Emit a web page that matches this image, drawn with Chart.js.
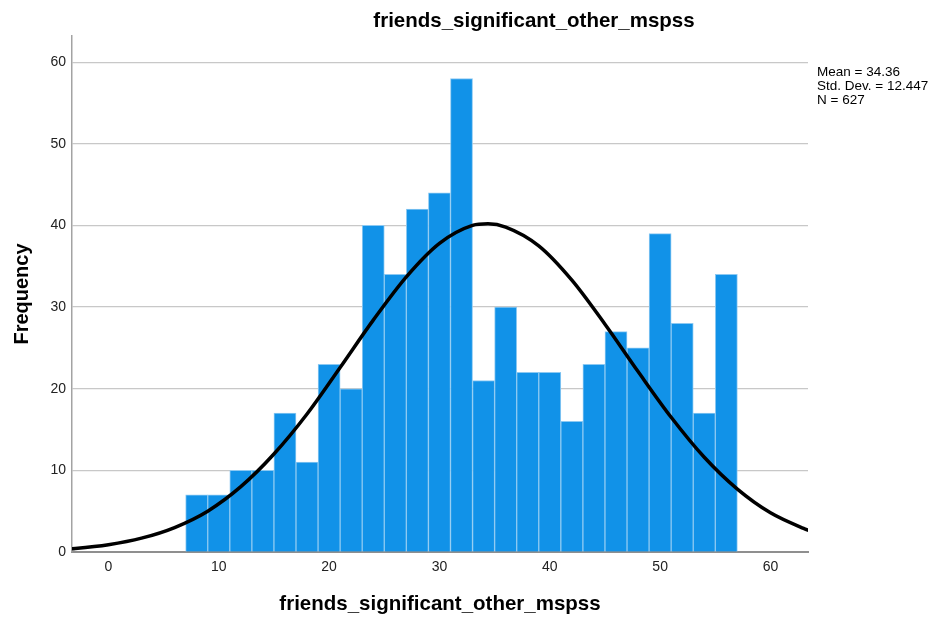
<!DOCTYPE html>
<html>
<head>
<meta charset="utf-8">
<title>friends_significant_other_mspss</title>
<script src="https://cdn.jsdelivr.net/npm/chart.js@4/dist/chart.umd.min.js"></script>
<style>
  body { margin: 0; background: #fff; }
  #wrap { width: 934px; height: 623px; position: relative; }
</style>
</head>
<body>
<div id="wrap"><canvas id="grafico"></canvas></div>
<script>
// histogram bins (centres, width 2) and counts
const binCentros = [8, 10, 12, 14, 16, 18, 20, 22, 24, 26, 28, 30, 32,
                    34, 36, 38, 40, 42, 44, 46, 48, 50, 52, 54, 56];
const contagens = [7, 7, 10, 10, 17, 11, 23, 20, 40, 34, 42, 44, 58,
                   21, 30, 22, 22, 16, 23, 27, 25, 39, 28, 17, 34];

// normal curve
const curvaX = [-4, -3, 0, 3, 6, 9, 12, 15, 18, 21, 24, 27, 30, 33, 34.4,
                36, 39, 42, 45, 48, 51, 54, 57, 60, 63, 64];
const curvaY = [0.35, 0.44, 0.9, 1.7, 3.0, 5.0, 8.0, 12.0, 16.9, 22.6, 28.4, 33.7, 37.8, 40.0, 40.2,
                39.8, 37.5, 33.3, 27.9, 22.1, 16.5, 11.6, 7.7, 4.8, 2.9, 2.4];

const xTicks = [0, 10, 20, 30, 40, 50, 60];
const yTicks = [0, 10, 20, 30, 40, 50, 60];

const titulo = "friends_significant_other_mspss";
const estatisticas = ["Mean = 34.36", "Std. Dev. = 12.447", "N = 627"];

const FONTE = '"Liberation Sans", Arial, sans-serif';

const textos = {
  id: "textos",
  afterDraw(chart) {
    const ctx = chart.ctx;
    const area = chart.chartArea;
    ctx.save();
    ctx.fillStyle = "#000";
    ctx.font = "bold 20.5px " + FONTE;
    ctx.textAlign = "center";
    ctx.textBaseline = "alphabetic";
    ctx.fillText(titulo, 534, 27);

    ctx.font = "13.5px " + FONTE;
    ctx.textAlign = "left";
    const linhas = [76, 90, 104];
    estatisticas.forEach((s, i) => ctx.fillText(s, area.right + 9, linhas[i]));
    ctx.restore();
  }
};

const ctx = document.getElementById("grafico");

new Chart(ctx, {
  type: "bar",
  data: {
    datasets: [
      {
        type: "line",
        data: curvaX.map((x, i) => ({ x: x, y: curvaY[i] })),
        borderColor: "#000",
        borderWidth: 3.5,
        pointRadius: 0,
        cubicInterpolationMode: "monotone",
        fill: false,
        order: 0
      },
      {
        type: "bar",
        data: binCentros.map((x, i) => ({ x: x, y: contagens[i] })),
        backgroundColor: "#1192e8",
        borderColor: "#8cc9f2",
        borderWidth: { left: 1, right: 1, top: 1, bottom: 0 },
        barPercentage: 1,
        categoryPercentage: 1,
        order: 1
      }
    ]
  },
  options: {
    responsive: true,
    maintainAspectRatio: false,
    animation: false,
    layout: { padding: { top: 36, right: 126, left: 0, bottom: 0 } },
    plugins: {
      legend: { display: false },
      tooltip: { enabled: false }
    },
    scales: {
      x: {
        type: "linear",
        min: -3.3,
        max: 63.4,
        offset: false,
        afterFit: s => { s.height = 71; },
        afterBuildTicks: s => { s.ticks = xTicks.map(v => ({ value: v })); },
        ticks: {
          padding: 7,
          color: "#222",
          font: { family: FONTE, size: 14 },
          maxRotation: 0
        },
        grid: { display: false, drawTicks: false, offset: false },
        border: { color: "#8f8f8f", width: 2 },
        title: {
          display: true,
          text: titulo,
          color: "#000",
          font: { family: FONTE, size: 20.5, weight: "bold" },
          padding: { top: 0, bottom: 6 }
        }
      },
      y: {
        min: 0,
        max: 63.2,
        afterFit: s => { s.width = 72; },
        afterBuildTicks: s => { s.ticks = yTicks.map(v => ({ value: v })); },
        ticks: {
          padding: 6,
          color: "#222",
          font: { family: FONTE, size: 14 }
        },
        grid: { color: "#c8c8c8", lineWidth: 1.2, drawTicks: false },
        border: { color: "#a3a3a3", width: 1.5 },
        title: {
          display: true,
          text: "Frequency",
          color: "#000",
          font: { family: FONTE, size: 20, weight: "bold" },
          padding: { top: 10, bottom: 0 }
        }
      }
    }
  },
  plugins: [textos]
});
</script>
</body>
</html>
